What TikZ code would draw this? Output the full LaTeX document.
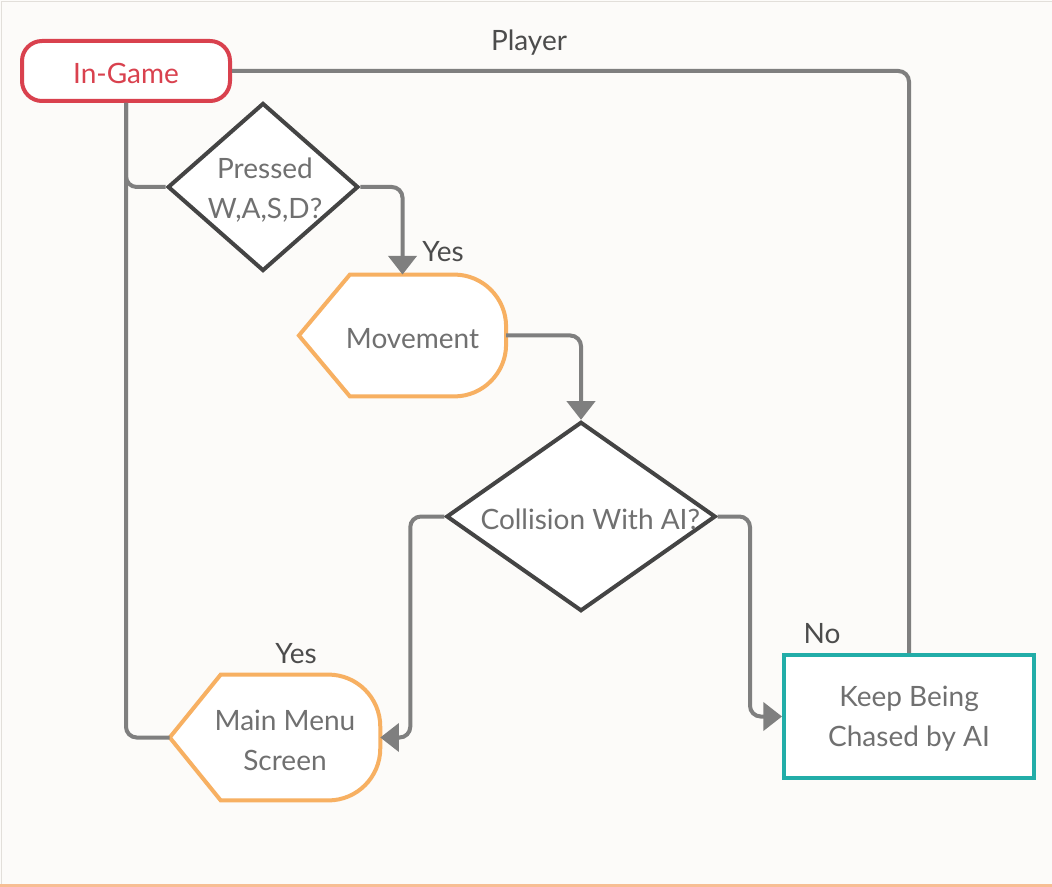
\documentclass[tikz,border=0pt]{standalone}
\usepackage{fontspec}
\setmainfont{Lato}
\usepackage{tikz}
\usepackage{xcolor}
\usetikzlibrary{shapes.geometric, arrows.meta, positioning, calc}
\definecolor{GameRed}{HTML}{D9414E}
\definecolor{MenuOrange}{HTML}{F7B062}
\definecolor{KeepTeal}{HTML}{22ADA8}
\definecolor{LinkGrey}{HTML}{7F7F7F}
\definecolor{EdgeGrey}{HTML}{444444}
\definecolor{TextGrey}{HTML}{707070}
\definecolor{LabelGrey}{HTML}{4C4C4C}
\definecolor{PaperWhite}{HTML}{FCFBF9}
\definecolor{FrameGrey}{HTML}{E2DFDA}
\definecolor{FrameOrange}{HTML}{F7BE94}

\tikzset{
  terminal/.style={draw=GameRed, text=GameRed, line width=3pt, rounded corners=15pt,
    fill=white, minimum width=156pt, minimum height=45pt, text height=19.5pt},
  decision/.style={diamond, draw=EdgeGrey, line width=3pt, fill=white, inner sep=0pt},
  display/.style={inner sep=0pt},
  process/.style={draw=KeepTeal, line width=3pt, fill=white,
    minimum width=187.5pt, minimum height=92.25pt},
  nodetext/.style={text=TextGrey, align=center, inner sep=0pt, yshift=-2pt},
  flowlabel/.style={text=LabelGrey, inner sep=0pt, anchor=base},
  link/.style={draw=LinkGrey, line width=3pt, rounded corners=8pt},
  arrowlink/.style={link, -{Triangle[length=14pt, width=21pt]}}
}

% pointed left end, rounded right end
\newcommand{\displayoutline}[1]{%
  \draw[draw=MenuOrange, line width=3pt, fill=white]
    (#1.west) -- ($(#1.north west)+(51,0)$) -- ($(#1.north east)+(-52,0)$)
    arc[start angle=90, end angle=0, radius=39pt]
    -- ($(#1.south east)+(0,-52)$)
    arc[start angle=0, end angle=-90, radius=39pt]
    -- ($(#1.south west)+(51,0)$) -- cycle;}

\begin{document}
\begin{tikzpicture}[x=0.75pt, y=-0.75pt, font=\fontsize{21}{30}\selectfont]
    % Paper
    \fill[PaperWhite] (0,0) rectangle (1052,887);
    \useasboundingbox (0,0) rectangle (1052,887);
    \draw[FrameGrey, line width=1pt] (1.5,887) -- (1.5,1.5) -- (1052,1.5);
    \draw[FrameOrange, line width=2pt] (0,885.5) -- (1052,885.5);

    % Nodes
    \node[terminal] (game) at (126,71) {In-Game};
    \node[decision, minimum width=143pt, minimum height=126pt] (press) at (263,187) {};
    \node[nodetext] (presstext) at ([xshift=1.5pt]press) {Pressed\\W,A,S,D?};

    \node[display, minimum width=155pt, minimum height=91pt] (move) at (402.5,335.5) {};
    \displayoutline{move}
    \node[nodetext] (movetext) at ([xshift=7.5pt]move) {Movement};

    \node[decision, minimum width=202pt, minimum height=142pt] (coll) at (581,516.5) {};
    \node[nodetext] (colltext) at ([xshift=7pt]coll) {Collision With AI?};

    \node[display, minimum width=157.5pt, minimum height=94pt] (menu) at (275,737.5) {};
    \displayoutline{menu}
    \node[nodetext] (menutext) at ([xshift=7.5pt]menu) {Main Menu\\Screen};

    \node[process] (keep) at (909,716.5) {};
    \node[nodetext] (keeptext) at (keep) {Keep Being\\Chased by AI};

    % Paths
    \draw[link] (game.east) -| (keep.north);
    \draw[link] (game.south) |- (menu.west);
    \draw[link] (game.south) |- (press.west);
    \draw[arrowlink] (press.east) -| (move.north);
    \draw[arrowlink] (move.east) -| (coll.north);
    \draw[arrowlink] (coll.west) -| ($(menu.east)+(30,0)$) -- (menu.east);
    \draw[arrowlink] (coll.east) -| ($(keep.west)+(-32,0)$) -- (keep.west);

    % Labels
    \node[flowlabel] (playerlabel) at (529,51) {Player};
    \node[flowlabel] (moveyes) at (443,262) {Yes};
    \node[flowlabel] (menuyes) at (296,663) {Yes};
    \node[flowlabel] (keepno) at (822,643) {No};
\end{tikzpicture}
\end{document}
